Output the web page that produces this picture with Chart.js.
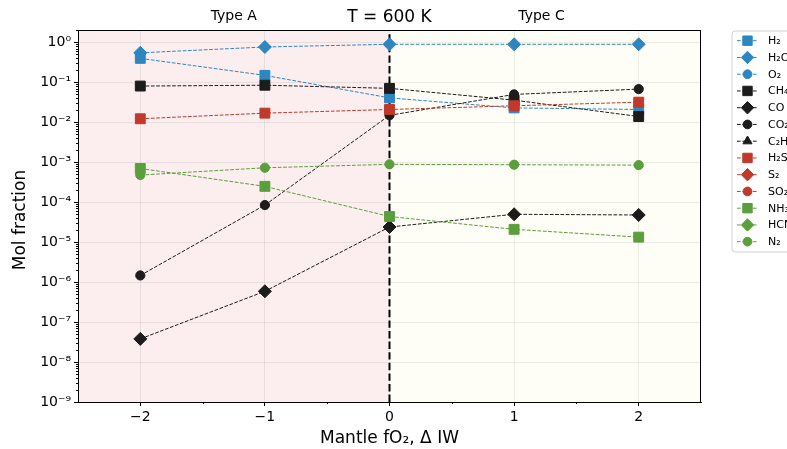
<!DOCTYPE html>
<html><head><meta charset="utf-8">
<script src="https://cdn.jsdelivr.net/npm/chart.js@4/dist/chart.umd.min.js"></script>
<style>html,body{margin:0;padding:0;background:#fff}#wrap{width:787px;height:449px;position:relative}</style>
</head><body><div id="wrap"><canvas id="c" width="787" height="449"></canvas></div>
<script>
// ---- data ----
const xValues = [-2, -1, 0, 1, 2];
const xTicks = [-2, -1, 0, 1, 2];
const yTicks = [1, 1e-1, 1e-2, 1e-3, 1e-4, 1e-5, 1e-6, 1e-7, 1e-8, 1e-9];
const H2   = [0.40, 0.15, 0.041, 0.023, 0.021];
const H2O  = [0.55, 0.77, 0.90, 0.90, 0.90];
const O2   = [null, null, null, null, null];
const CH4  = [0.081, 0.085, 0.071, 0.036, 0.014];
const CO   = [3.8e-8, 5.9e-7, 2.4e-5, 5.0e-5, 4.8e-5];
const CO2  = [1.47e-6, 8.5e-5, 0.015, 0.050, 0.068];
const C2H6 = [null, null, null, null, null];
const H2S  = [0.0123, 0.017, 0.021, 0.026, 0.032];
const S2   = [null, null, null, null, null];
const SO2  = [null, null, null, null, null];
const NH3  = [7.0e-4, 2.5e-4, 4.4e-5, 2.1e-5, 1.34e-5];
const HCN  = [null, null, null, null, null];
const N2   = [4.8e-4, 7.3e-4, 8.9e-4, 8.7e-4, 8.5e-4];
const regionLabels = ['Type A', 'Type C'];
const regionLabelX = [-1.25, 1.22];
const titleText = 'T = 600 K';

// ---- styles ----
const BLUE = '#2e86c1', BLACK = '#1c1c1c', RED = '#c0392b', GREEN = '#5a9f3c';
const FONT = '"DejaVu Sans", sans-serif';
const series = [
  ['H₂', H2, BLUE, 'rect'], ['H₂O', H2O, BLUE, 'rectRot'], ['O₂', O2, BLUE, 'circle'],
  ['CH₄', CH4, BLACK, 'rect'], ['CO', CO, BLACK, 'rectRot'], ['CO₂', CO2, BLACK, 'circle'],
  ['C₂H₆', C2H6, BLACK, 'triangle'], ['H₂S', H2S, RED, 'rect'], ['S₂', S2, RED, 'rectRot'],
  ['SO₂', SO2, RED, 'circle'], ['NH₃', NH3, GREEN, 'rect'], ['HCN', HCN, GREEN, 'rectRot'],
  ['N₂', N2, GREEN, 'circle']
];
const RADIUS = {rect: 7, rectRot: 6.5, circle: 4.6, triangle: 5.5};

const sup = {'-':'⁻','0':'⁰','1':'¹','2':'²','3':'³','4':'⁴','5':'⁵','6':'⁶','7':'⁷','8':'⁸','9':'⁹'};
function supStr(n){ return String(n).split('').map(c=>sup[c]).join(''); }

function marker(ctx, style, r, x, y, color){
  ctx.save();
  ctx.fillStyle = color; ctx.strokeStyle = color; ctx.lineWidth = 1; ctx.setLineDash([]);
  ctx.beginPath();
  if (style === 'rect') { const s = r*Math.SQRT1_2; ctx.rect(x-s, y-s, 2*s, 2*s); }
  else if (style === 'rectRot') { ctx.moveTo(x-r,y); ctx.lineTo(x,y-r); ctx.lineTo(x+r,y); ctx.lineTo(x,y+r); ctx.closePath(); }
  else if (style === 'circle') { ctx.arc(x, y, r, 0, Math.PI*2); }
  else if (style === 'triangle') { ctx.moveTo(x, y-r); ctx.lineTo(x+r*0.87, y+r*0.5); ctx.lineTo(x-r*0.87, y+r*0.5); ctx.closePath(); }
  ctx.fill(); ctx.stroke();
  ctx.restore();
}

const N = series.length;
const datasets = series.map((s, i) => ({
  label: s[0],
  data: xValues.map((x, j) => ({x: x, y: s[1][j]})),
  borderColor: s[2], backgroundColor: s[2],
  borderWidth: 1, borderDash: [3.7, 1.6],
  pointStyle: s[3], pointRadius: RADIUS[s[3]], pointBorderWidth: 1,
  pointBackgroundColor: s[2], pointBorderColor: s[2],
  pointHoverRadius: RADIUS[s[3]],
  fill: false, tension: 0, spanGaps: false,
  order: N - i
}));

const decor = {
  id: 'decor',
  beforeDraw(chart){
    const {ctx, chartArea: a, scales: {x}} = chart;
    const x0 = x.getPixelForValue(0);
    ctx.save();
    ctx.fillStyle = 'rgb(252,238,238)';
    ctx.fillRect(a.left, a.top, x0 - a.left, a.bottom - a.top);
    ctx.fillStyle = 'rgb(255,254,246)';
    ctx.fillRect(x0, a.top, a.right - x0, a.bottom - a.top);
    ctx.restore();
  },
  beforeDatasetsDraw(chart){
    const {ctx, chartArea: a, scales: {x}} = chart;
    const x0 = x.getPixelForValue(0);
    ctx.save();
    ctx.strokeStyle = '#000'; ctx.lineWidth = 2; ctx.setLineDash([7.4, 3.2]);
    ctx.beginPath(); ctx.moveTo(x0, a.bottom); ctx.lineTo(x0, a.top); ctx.stroke();
    ctx.restore();
  },
  afterDraw(chart){
    const {ctx, chartArea: a, scales: {x, y}} = chart;
    ctx.save();
    // spines
    ctx.strokeStyle = '#000'; ctx.lineWidth = 1; ctx.setLineDash([]);
    ctx.strokeRect(Math.round(a.left)+0.5, Math.round(a.top)+0.5, Math.round(a.right-a.left)-1, Math.round(a.bottom-a.top));
    // minor ticks y
    ctx.beginPath();
    for (let e = -9; e <= 0; e++) {
      for (let m = 2; m <= 9; m++) {
        const v = m * Math.pow(10, e);
        if (v > y.max) continue;
        const py = Math.round(y.getPixelForValue(v)) + 0.5;
        ctx.moveTo(a.left, py); ctx.lineTo(a.left - 2, py);
      }
    }
    // minor ticks x
    [-1.5, -0.5, 0.5, 1.5].forEach(v => {
      const px = Math.round(x.getPixelForValue(v)) + 0.5;
      ctx.moveTo(px, a.bottom); ctx.lineTo(px, a.bottom + 2);
    });
    ctx.stroke();
    // texts
    ctx.fillStyle = '#000';
    ctx.textAlign = 'center'; ctx.textBaseline = 'middle';
    ctx.font = '17px ' + FONT;
    ctx.fillText(titleText, x.getPixelForValue(0), 18);
    ctx.font = '14px ' + FONT;
    regionLabels.forEach((t, i) => ctx.fillText(t, x.getPixelForValue(regionLabelX[i]), 16));
    ctx.font = '17px ' + FONT;
    ctx.fillText('Mantle fO₂, Δ IW', (a.left + a.right) / 2, 439);
    ctx.save();
    ctx.translate(21, (a.top + a.bottom) / 2 + 4);
    ctx.rotate(-Math.PI / 2);
    ctx.fillText('Mol fraction', 0, 0);
    ctx.restore();
    // legend
    const lx = 732, ly = 31, lw = 70, lh = 221;
    ctx.beginPath();
    const r = 3;
    ctx.moveTo(lx + r, ly); ctx.lineTo(lx + lw, ly); ctx.lineTo(lx + lw, ly + lh);
    ctx.lineTo(lx + r, ly + lh); ctx.arcTo(lx, ly + lh, lx, ly + lh - r, r);
    ctx.lineTo(lx, ly + r); ctx.arcTo(lx, ly, lx + r, ly, r); ctx.closePath();
    ctx.fillStyle = 'rgba(255,255,255,0.9)'; ctx.fill();
    ctx.strokeStyle = '#d0d0d0'; ctx.lineWidth = 1; ctx.stroke();
    ctx.font = '11px ' + FONT; ctx.textAlign = 'left'; ctx.textBaseline = 'middle';
    series.forEach((s, i) => {
      const yy = 40.7 + i * 16.75;
      ctx.save();
      ctx.strokeStyle = s[2]; ctx.lineWidth = 1; ctx.setLineDash([3.7, 1.6]);
      ctx.beginPath(); ctx.moveTo(737, yy); ctx.lineTo(758, yy); ctx.stroke();
      ctx.restore();
      marker(ctx, s[3], RADIUS[s[3]] * 0.95, 747.5, yy, s[2]);
      ctx.fillStyle = '#000';
      ctx.fillText(s[0], 768, yy + 0.5);
    });
    ctx.restore();
  }
};

new Chart(document.getElementById('c'), {
  type: 'line',
  data: { datasets },
  plugins: [decor],
  options: {
    responsive: false, animation: false, devicePixelRatio: 1,
    layout: { padding: { left: 0, right: 86, top: 30, bottom: 0 } },
    plugins: { legend: { display: false }, tooltip: { enabled: false }, title: { display: false } },
    scales: {
      x: {
        type: 'linear', min: -2.5, max: 2.5,
        afterFit(s){ s.height = 47; },
        afterBuildTicks(s){ s.ticks = xTicks.map(v => ({value: v})); },
        ticks: { color: '#000', font: { family: FONT, size: 14 }, padding: 3,
                 callback: v => (v < 0 ? '−' + Math.abs(v) : String(v)) },
        grid: { color: 'rgba(0,0,0,0.07)', tickColor: '#000', tickLength: 4, drawOnChartArea: true },
        border: { display: true, color: '#000', width: 1 }
      },
      y: {
        type: 'logarithmic', min: 1e-9, max: 2.05,
        afterFit(s){ s.width = 78; },
        afterBuildTicks(s){ s.ticks = yTicks.map(v => ({value: v})); },
        ticks: { color: '#000', font: { family: FONT, size: 14 }, padding: 3,
                 callback: v => '10' + supStr(Math.round(Math.log10(v))) },
        grid: { color: 'rgba(0,0,0,0.07)', tickColor: '#000', tickLength: 4, drawOnChartArea: true },
        border: { display: true, color: '#000', width: 1 }
      }
    }
  }
});
</script>
</body></html>
